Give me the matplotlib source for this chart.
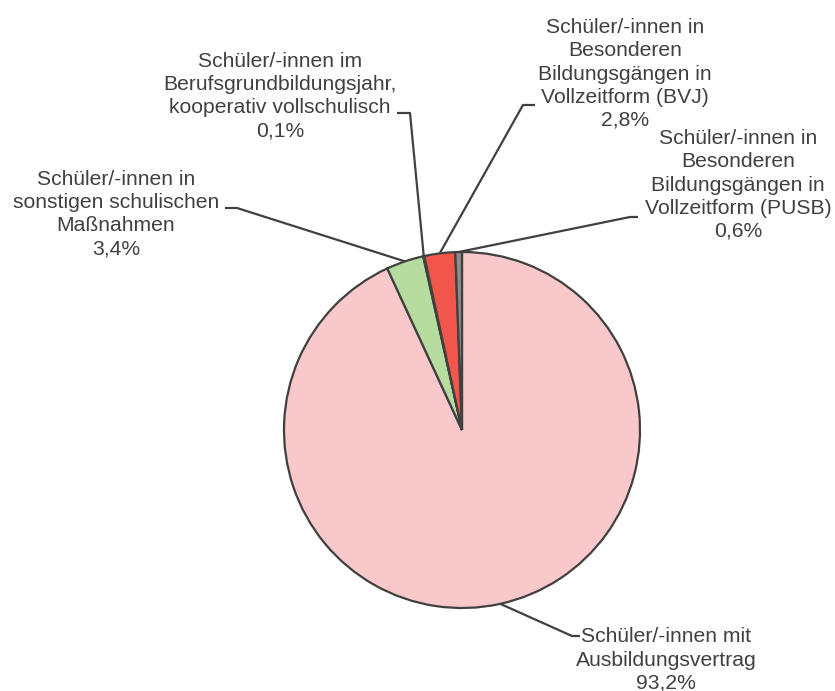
import matplotlib.pyplot as plt
import numpy as np

plt.rcParams['font.family'] = ['Liberation Sans', 'DejaVu Sans']

labels = [
    "Schüler/-innen mit\nAusbildungsvertrag",
    "Schüler/-innen in\nsonstigen schulischen\nMaßnahmen",
    "Schüler/-innen im\nBerufsgrundbildungsjahr,\nkooperativ vollschulisch",
    "Schüler/-innen in\nBesonderen\nBildungsgängen in\nVollzeitform (BVJ)",
    "Schüler/-innen in\nBesonderen\nBildungsgängen in\nVollzeitform (PUSB)",
]
values = [93.2, 3.4, 0.1, 2.8, 0.6]
pct_text = ["93,2%", "3,4%", "0,1%", "2,8%", "0,6%"]
colors = ["#F8C8CA", "#B6DCA0", "#B6DCA0", "#F2564A", "#8C8C8C"]

# layout in pixel coordinates (from top-left of the image)
W, H = 835, 691
center = (462, 430)
radius = 178
text_pos = [(666, 660), (116, 214), (280, 96), (625, 74), (738, 185)]
elbow = [(572, 636), (237, 208), (410, 113), (523, 105), (630, 217)]
stub = [(580, 636), (225, 208), (397, 113), (535, 105), (638, 217)]

fig = plt.figure(figsize=(W / 100, H / 100), dpi=100)
ax = fig.add_axes([0, 0, 1, 1])

cx, cy = center[0], H - center[1]
wedges, _ = ax.pie(values, colors=colors, startangle=90, counterclock=False,
                   radius=radius, center=(cx, cy), frame=True,
                   wedgeprops=dict(edgecolor="#404040", linewidth=1.6))
ax.set_xlim(0, W)
ax.set_ylim(0, H)
ax.set_aspect("equal")
ax.axis("off")

line_col = "#404040"
text_col = "#404040"
for w, lab, pct, tp, el, st in zip(wedges, labels, pct_text, text_pos, elbow, stub):
    ang = np.deg2rad((w.theta1 + w.theta2) / 2)
    px = cx + radius * np.cos(ang)
    py = cy + radius * np.sin(ang)
    ax.plot([px, el[0], st[0]], [py, H - el[1], H - st[1]],
            color=line_col, lw=1.6, solid_capstyle="butt")
    ax.text(tp[0], H - tp[1], lab + "\n" + pct, ha="center", va="center",
            multialignment="center", fontsize=15.2, color=text_col,
            linespacing=1.27)

plt.savefig("out.png", dpi=100)
